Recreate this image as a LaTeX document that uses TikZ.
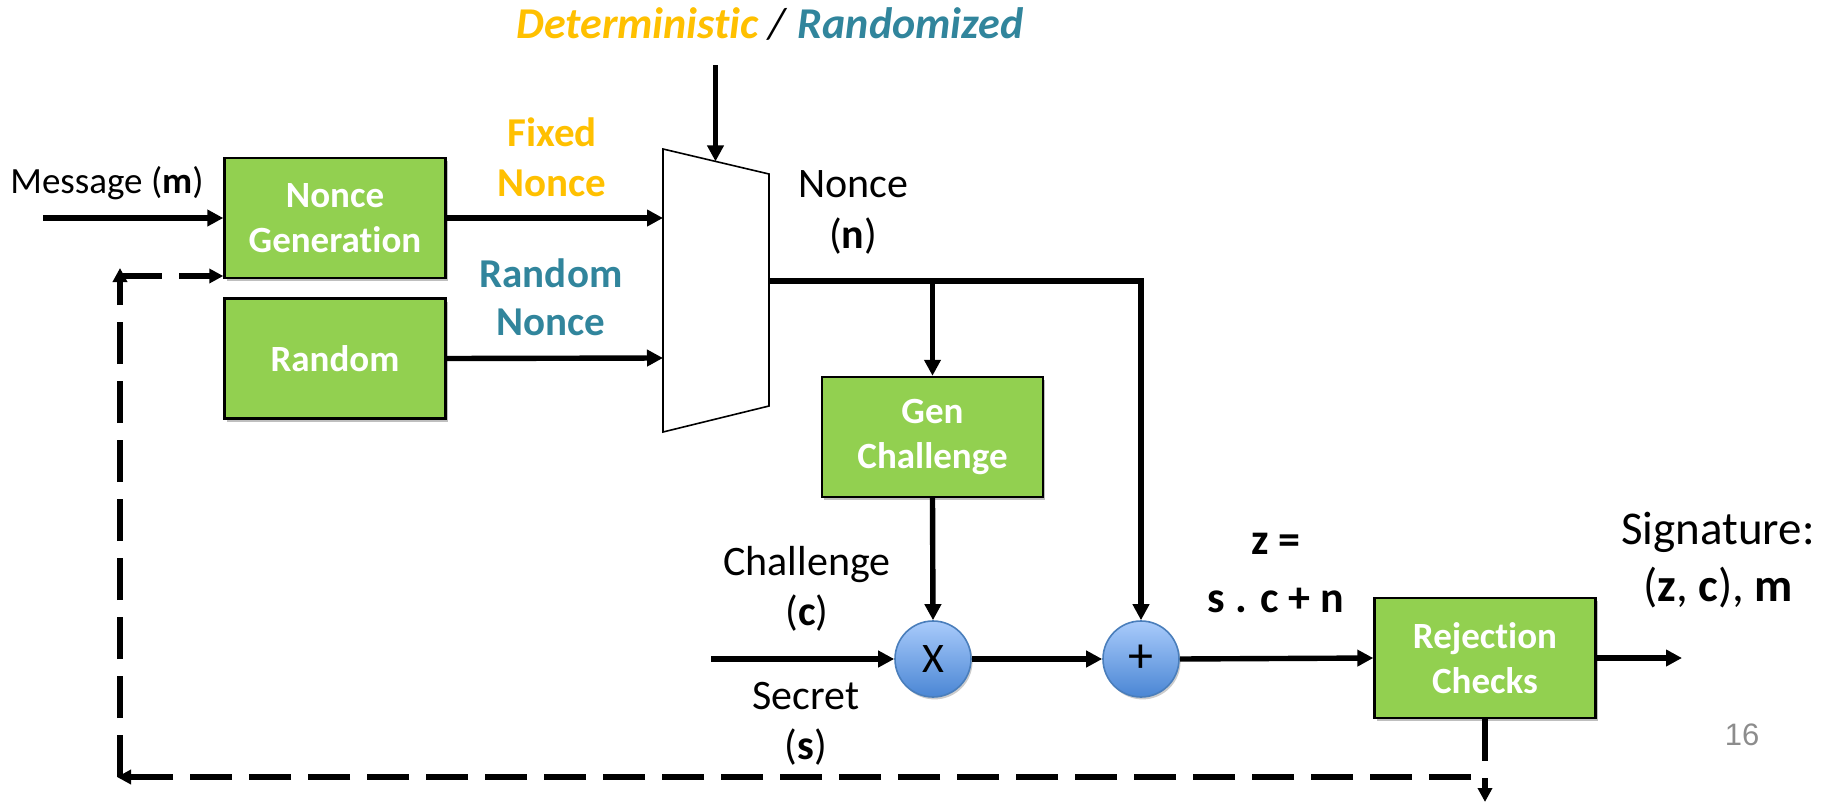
\documentclass[tikz,border=0pt]{standalone}
\usepackage{fontspec}
\setmainfont{Carlito}[Ligatures=NoCommon]
\newfontfamily\numfont{Liberation Sans}
\usetikzlibrary{arrows.meta,shadows,calc}

\definecolor{boxgreen}{HTML}{92D050}
\definecolor{detgold}{HTML}{FFC000}
\definecolor{randteal}{HTML}{31859C}
\definecolor{opTop}{HTML}{A9CBFB}
\definecolor{opBot}{HTML}{4A86D4}
\definecolor{opEdge}{HTML}{4A7EBB}
\definecolor{pagegray}{HTML}{8C8C8C}

\tikzset{
  stage/.style={draw=black, line width=1.2pt, fill=boxgreen, minimum width=110.5pt,
    minimum height=60pt, inner sep=0pt, align=center, text=white,
    font=\fontsize{18.5}{22.5}\selectfont\bfseries,
    drop shadow={shadow xshift=1pt, shadow yshift=-1.5pt, opacity=0.25, fill=black}},
  op/.style={circle, draw=opEdge, line width=0.8pt, top color=opTop, bottom color=opBot,
    minimum size=38pt, inner sep=0pt,
    drop shadow={shadow xshift=0.8pt, shadow yshift=-1.2pt, opacity=0.2, fill=black}},
  flow/.style={line width=2.7pt, -{Triangle[length=8pt,width=8pt]}},
  feedback/.style={line width=3.2pt, dash pattern=on 21pt off 8.5pt,
    -{Triangle[length=7pt,width=7pt]}},
  lbl/.style={align=center, inner sep=0pt},
}

\begin{document}
\begin{tikzpicture}[x=0.5pt, y=-0.5pt]
\useasboundingbox (0,0) rectangle (1827,804);

% processing stages
\node[stage] (ng)  at (335,218)    {Nonce\\Generation};
\node[stage] (rnd) at (335,358.5)  {Random};
\node[stage] (gc)  at (932.5,437)  {Gen\\Challenge};
\node[stage] (rc)  at (1485,658)   {Rejection\\Checks};

% arithmetic operators
\node[op, font=\fontsize{21}{24}\selectfont] (mul) at (933,659)  {X};
\node[op, font=\fontsize{25}{28}\selectfont] (add) at (1141,659) {+};

% multiplexer
\coordinate (muxTL) at (663,149);
\coordinate (muxTR) at (769,174);
\coordinate (muxBR) at (769,406);
\coordinate (muxBL) at (663,432);
\draw[line width=0.8pt, fill=white] (muxTL) -- (muxTR) -- (muxBR) -- (muxBL) -- cycle;
\coordinate (muxA)   at (663,218);
\coordinate (muxB)   at (663,358);
\coordinate (muxSel) at (715.5,161.4);
\coordinate (muxOut) at (769,281);

% mode selection
\node[anchor=base, inner sep=0pt, font=\fontsize{22}{26}\selectfont] (title) at (770,38.5)
  {\textcolor{detgold}{\bfseries\itshape Deterministic} \textit{/} \textcolor{randteal}{\bfseries\itshape Randomized}};
\coordinate (selTop) at (715.5,65);
\draw[flow] (selTop) -- (muxSel);

% message input
\node[anchor=base west, inner sep=0pt, font=\fontsize{18.5}{22}\selectfont] (msg) at (10,193)
  {Message (\textbf{m})};
\coordinate (msgIn) at (43,218);
\draw[flow] (msgIn) -- (ng.west);

% nonce sources into the multiplexer
\draw[flow] (ng.east) -- (muxA);
\draw[flow] (rnd.east) -- (muxB);
\node[lbl, anchor=base, font=\fontsize{20.5}{25}\selectfont\bfseries, text=detgold] (fixedLbl)
  at (552,196.7) {Fixed\\Nonce};
\node[lbl, anchor=base, font=\fontsize{20.5}{24}\selectfont\bfseries, text=randteal] (randLbl)
  at (551,335) {Random\\Nonce};

% nonce distribution
\draw[flow] (muxOut) -| (add.north);
\draw[flow] (gc.north |- muxOut) -- (gc.north);
\node[lbl, anchor=base, font=\fontsize{21}{25.5}\selectfont] (nLbl) at (853,248)
  {Nonce\\(\textbf{n})};

% z = s.c + n
\draw[flow] (gc.south) -- (mul.north);
\coordinate (chIn) at (711,659);
\draw[flow] (chIn) -- (mul.west);
\draw[flow] (mul.east) -- (add.west);
\draw[flow] (add.east) -- (rc.west);
\node[lbl, anchor=base, font=\fontsize{21}{25}\selectfont] (cLbl) at (807,625)
  {Challenge\\(\textbf{c})};
\node[lbl, anchor=base, font=\fontsize{21}{25}\selectfont] (sLbl) at (806,759)
  {Secret\\(\textbf{s})};
\node[lbl, anchor=base, font=\fontsize{22}{29}\selectfont\bfseries] (zLbl) at (1276,612.7)
  {z =\\s . c + n};

% signature output
\coordinate (sigOut) at (1682,658);
\draw[flow] (rc.east) -- (sigOut);
\node[lbl, anchor=base, font=\fontsize{23.5}{28.5}\selectfont] (sigLbl) at (1718,601.7)
  {Signature:\\(\textbf{z}, \textbf{c}), \textbf{m}};

% rejection feedback loop
\coordinate (fbDrop)  at (1485,802);
\coordinate (fbStart) at (1471,777);
\coordinate (fbBL)    at (117,777);
\coordinate (fbTL)    at (120,268);
\coordinate (fbUp)    at (120,777);
\coordinate (fbNg)    at (120,276);
\draw[feedback] (rc.south) -- (fbDrop);
\draw[feedback] (fbStart) -- (fbBL);
\draw[feedback] (fbUp) -- (fbTL);
\draw[feedback] (fbNg) -- (ng.west |- fbNg);

% page number
\node[anchor=base, inner sep=0pt, font=\numfont\fontsize{15.5}{18}\selectfont, text=pagegray] (pg)
  at (1742,745) {16};
\end{tikzpicture}
\end{document}
